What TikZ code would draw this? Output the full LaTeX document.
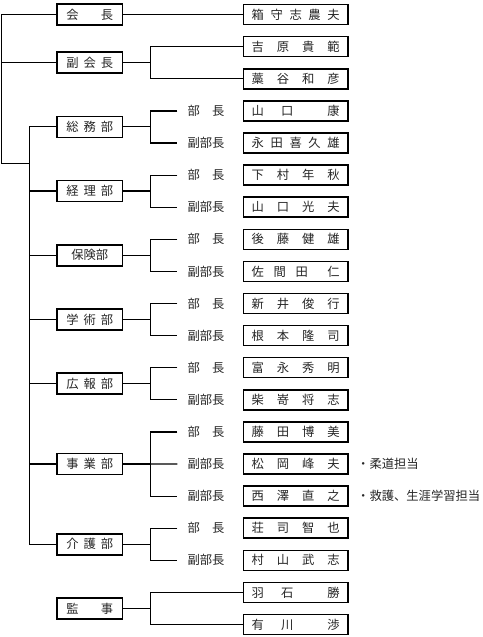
\documentclass[tikz,border=0pt]{standalone}
\usepackage{fontspec}
\newfontfamily\jpfont{Noto Sans CJK JP}
\usetikzlibrary{positioning}
\newcommand{\fitdept}[1]{\makebox[47pt]{#1}}
\newcommand{\fitname}[1]{\makebox[88pt]{#1}}
\newcommand{\fitrole}[1]{\makebox[37pt]{#1}}

\begin{document}
\begin{tikzpicture}[
 x=1pt,y=-1pt,font={\jpfont\fontsize{12.3}{14}\selectfont},
 dept/.style={draw,line width=1.5pt,minimum width=65.5pt,minimum height=21pt,inner sep=0pt,text=black!85},
 namebox/.style={draw,line width=1.5pt,minimum width=104.5pt,minimum height=20pt,inner sep=0pt,text=black!85},
 role/.style={minimum width=57pt,inner sep=0pt,text=black!85},
 note/.style={inner sep=0pt,text=black!85},
 link/.style={line width=1.2pt}
]
\fill[white] (0,0) rectangle (482,637);
\useasboundingbox (0,0) rectangle (482,637);

% Officers and departments.
\node[dept] (kaicho) at (89.8,14.6) {\fitdept{会\hfill 長}};
\node[dept] (fuku) at (89.8,62.65) {\fitdept{副\hfill 会\hfill 長}};
\node[dept] (soumu) at (89.8,126.85) {\fitdept{総\hfill 務\hfill 部}};
\node[dept] (keiri) at (89.8,191.05) {\fitdept{経\hfill 理\hfill 部}};
\node[dept] (hoken) at (89.8,255.25) {保険部};
\node[dept] (gakujutsu) at (89.8,319.45) {\fitdept{学\hfill 術\hfill 部}};
\node[dept] (kouhou) at (89.8,383.65) {\fitdept{広\hfill 報\hfill 部}};
\node[dept] (jigyou) at (89.8,464.0) {\fitdept{事\hfill 業\hfill 部}};
\node[dept] (kaigo) at (89.8,544.25) {\fitdept{介\hfill 護\hfill 部}};
\node[dept] (kanji) at (89.8,608.45) {\fitdept{監\hfill 事}};

% Names, one per row.
\foreach \nm [count=\i from 0] in {
  {箱\hfill 守\hfill 志\hfill 農\hfill 夫}, {吉\hfill 原\hfill 貴\hfill 範}, {藁\hfill 谷\hfill 和\hfill 彦},
  {山\hfill 口\hfill\hfill 康}, {永\hfill 田\hfill 喜\hfill 久\hfill 雄},
  {下\hfill 村\hfill 年\hfill 秋}, {山\hfill 口\hfill 光\hfill 夫},
  {後\hfill 藤\hfill 健\hfill 雄}, {佐\hfill 間\hfill 田\hfill\hfill 仁},
  {新\hfill 井\hfill 俊\hfill 行}, {根\hfill 本\hfill 隆\hfill 司},
  {富\hfill 永\hfill 秀\hfill 明}, {柴\hfill 嵜\hfill 将\hfill 志},
  {藤\hfill 田\hfill 博\hfill 美}, {松\hfill 岡\hfill 峰\hfill 夫}, {西\hfill 澤\hfill 直\hfill 之},
  {荘\hfill 司\hfill 智\hfill 也}, {村\hfill 山\hfill 武\hfill 志},
  {羽\hfill 石\hfill\hfill 勝}, {有\hfill 川\hfill\hfill 渉}}
  \node[namebox] (n\i) at (295.7,{14.6+32.1*\i}) {\fitname{\nm}};

% Posts inside the departments.
\foreach \r in {3,5,7,9,11,13,16}
  \node[role] (r\r) at (206,{14.6+32.1*\r}) {\fitrole{部\hfill 長}};
\foreach \r in {4,6,8,10,12,14,15,17}
  \node[role] (r\r) at (206,{14.6+32.1*\r}) {\fitrole{副部長}};

% Branches.
\draw[link] (kaicho.east) -- (n0.west);
\foreach \d/\a/\b in {fuku/n1/n2,soumu/r3/r4,keiri/r5/r6,hoken/r7/r8,gakujutsu/r9/r10,
  kouhou/r11/r12,jigyou/r13/r15,kaigo/r16/r17,kanji/n18/n19} {
  \draw[link] (\a.west) -| ([xshift=27pt]\d.east) |- (\b.west);
  \draw[link] (\d.east) -- ([xshift=27pt]\d.east);
}
\draw[link] (jigyou.east) -- (r14.west);

% Spine.
\coordinate (outer) at (1.7,163.5);
\coordinate (inner) at (29.3,163.5);
\draw[link] (kaicho.west) -| (outer) -- (inner);
\draw[link] (fuku.west) -- (fuku.west -| outer);
\draw[link] (soumu.west) -| (inner) |- (kaigo.west);
\foreach \d in {keiri,hoken,gakujutsu,kouhou,jigyou}
  \draw[link] (\d.west) -- (\d.west -| inner);

% Notes.
\node[note,right=8.3pt of n14] (judo) {・柔道担当};
\node[note,right=8.3pt of n15] (kyugo) {・救護、生涯学習担当};
\end{tikzpicture}
\end{document}
